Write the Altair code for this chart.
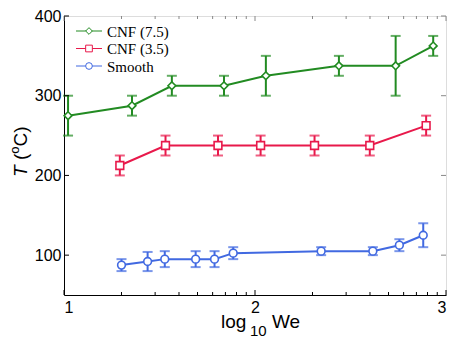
import altair as alt
import pandas as pd

series_names = ["CNF (7.5)", "CNF (3.5)", "Smooth"]
series_colors = ["#228B22", "#E8194B", "#4169E1"]
series_shapes = ["diamond", "square", "circle"]

cnf75_we = [10.5, 22.7, 36.7, 68.8, 114, 275, 545, 857]
cnf75_T = [275, 287.5, 312.5, 312.5, 325, 337.5, 337.5, 362.5]
cnf75_err = [25, 12.5, 12.5, 12.5, 25, 12.5, 37.5, 12.5]

cnf35_we = [19.6, 34, 64, 107, 205, 399, 787]
cnf35_T = [212.5, 237.5, 237.5, 237.5, 237.5, 237.5, 262.5]
cnf35_err = [12.5, 12.5, 12.5, 12.5, 12.5, 12.5, 12.5]

smooth_we = [20, 27.4, 33.7, 48.9, 61.4, 76.9, 222, 414, 570, 760]
smooth_T = [87.5, 92, 95, 95, 95, 102.5, 105, 105, 112.5, 125]
smooth_err = [7.5, 12, 10, 10, 10, 7.5, 5, 5, 7.5, 15]

x_major = [10, 100, 1000]
x_minor = [20, 30, 40, 50, 60, 70, 80, 90, 200, 300, 400, 500, 600, 700, 800, 900]
y_ticks = [100, 200, 300, 400]

W, H = 382, 279

rows = []
for name, we, T, err in [
    (series_names[0], cnf75_we, cnf75_T, cnf75_err),
    (series_names[1], cnf35_we, cnf35_T, cnf35_err),
    (series_names[2], smooth_we, smooth_T, smooth_err),
]:
    for a, b, e in zip(we, T, err):
        rows.append({"series": name, "We": a, "T": b, "lo": b - e, "hi": b + e})
df = pd.DataFrame(rows)

xs = alt.Scale(type="log", domain=[10, 1000])
ys = alt.Scale(domain=[50, 400])
cs = alt.Scale(domain=series_names, range=series_colors)
ss = alt.Scale(domain=series_names, range=series_shapes)

x_axis = alt.Axis(values=x_major, ticks=False, tickSize=0, grid=False,
                  labelExpr="'' + round(log(datum.value) / LN10)",
                  labelFont="Liberation Sans", labelFontSize=16, labelPadding=4,
                  labelColor="#000", domainColor="#000", domainWidth=1, title=None)
y_axis = alt.Axis(values=y_ticks, ticks=False, tickSize=0, grid=False,
                  labelFont="Liberation Sans", labelFontSize=16, labelPadding=3,
                  labelColor="#000", domainColor="#000", domainWidth=1, title=None)

base = alt.Chart(df)
color = alt.Color("series:N", scale=cs, legend=None)

bars = base.mark_rule(strokeWidth=2).encode(
    x=alt.X("We:Q", scale=xs, axis=x_axis),
    y=alt.Y("lo:Q", scale=ys, axis=y_axis),
    y2="hi:Q",
    color=color,
)
cap_lo = base.mark_tick(orient="horizontal", size=10, thickness=2).encode(
    x=alt.X("We:Q", scale=xs), y=alt.Y("lo:Q", scale=ys), color=color)
cap_hi = base.mark_tick(orient="horizontal", size=10, thickness=2).encode(
    x=alt.X("We:Q", scale=xs), y=alt.Y("hi:Q", scale=ys), color=color)
lines = base.mark_line(strokeWidth=2).encode(
    x=alt.X("We:Q", scale=xs), y=alt.Y("T:Q", scale=ys), color=color,
    detail="series:N")
points = base.mark_point(filled=False, fill="white", strokeWidth=1.6, size=60, opacity=1).encode(
    x=alt.X("We:Q", scale=xs), y=alt.Y("T:Q", scale=ys), color=color,
    shape=alt.Shape("series:N", scale=ss, legend=None))

# inward ticks (box style)
xmaj = pd.DataFrame({"v": x_major})
xmin = pd.DataFrame({"v": x_minor})
ytk = pd.DataFrame({"v": y_ticks})
tick_layers = []
for d, ln in [(xmaj, 5), (xmin, 3)]:
    tick_layers.append(alt.Chart(d).mark_rule(color="#000", strokeWidth=1).encode(
        x=alt.X("v:Q", scale=xs), y=alt.value(H), y2=alt.value(H - ln)))
    tick_layers.append(alt.Chart(d).mark_rule(color="#888", strokeWidth=1).encode(
        x=alt.X("v:Q", scale=xs), y=alt.value(0), y2=alt.value(ln)))
tick_layers.append(alt.Chart(ytk).mark_rule(color="#000", strokeWidth=1).encode(
    y=alt.Y("v:Q", scale=ys), x=alt.value(0), x2=alt.value(5)))
tick_layers.append(alt.Chart(ytk).mark_rule(color="#888", strokeWidth=1).encode(
    y=alt.Y("v:Q", scale=ys), x=alt.value(W), x2=alt.value(W - 5)))

one = pd.DataFrame({"a": [0]})

# legend
legend_layers = []
for i, (name, col, shp) in enumerate(zip(series_names, series_colors, series_shapes)):
    yy = 15 + i * 17.5
    legend_layers.append(alt.Chart(one).mark_rule(color=col, strokeWidth=1).encode(
        x=alt.value(12), x2=alt.value(38), y=alt.value(yy)))
    legend_layers.append(alt.Chart(one).mark_point(
        shape=shp, filled=False, fill="white", stroke=col, strokeWidth=1, size=45, opacity=1
    ).encode(x=alt.value(25), y=alt.value(yy)))
    legend_layers.append(alt.Chart(one).mark_text(
        text=name, font="Liberation Serif", fontSize=15, align="left", baseline="middle", color="#000"
    ).encode(x=alt.value(43), y=alt.value(yy + 0.5)))

# axis titles as rich text
def txt(t, x, y, size=19, angle=0, style="normal"):
    return alt.Chart(one).mark_text(
        text=t, font="Liberation Sans", fontSize=size, align="left", baseline="alphabetic",
        angle=angle, fontStyle=style, color="#000"
    ).encode(x=alt.value(x), y=alt.value(y))

title_layers = [
    txt("log", 157, H + 33),
    txt("10", 186, H + 41, size=15),
    txt("We", 208, H + 33),
    txt("T", -37, 161, angle=270, style="italic"),
    txt("(", -37, 144, angle=270),
    txt("o", -45, 137.7, size=13, angle=270),
    txt("C)", -37, 130.5, angle=270),
]

chart = alt.layer(
    bars, cap_lo, cap_hi, lines, points, *tick_layers, *legend_layers, *title_layers
).properties(
    width=W, height=H,
    autosize=alt.AutoSizeParams(type="none"),
    padding={"left": 56, "top": 8, "right": 4, "bottom": 44},
).configure_view(stroke="#888", strokeWidth=1).configure(background="white")

chart.save("out.html", embed_options={"renderer": "svg", "actions": False})
